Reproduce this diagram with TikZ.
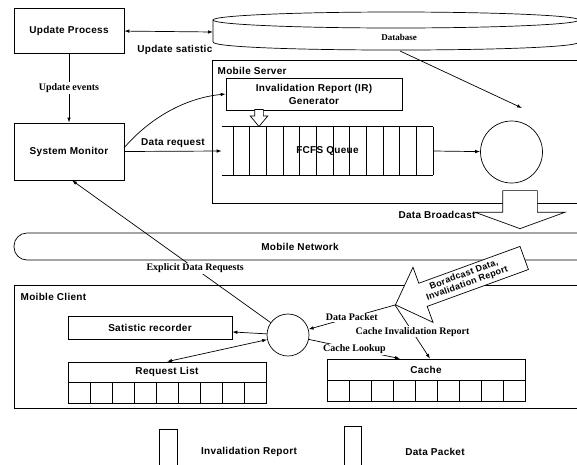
\documentclass[tikz,border=0pt]{standalone}
\usepackage{fontspec}
\setmainfont{Liberation Sans}
\newfontfamily\sansb[LetterSpace=3]{Liberation Sans}
\newfontfamily\serifb{Liberation Serif}
\usetikzlibrary{arrows.meta,shapes.arrows,positioning}

\begin{document}
\begin{tikzpicture}[x=1pt, y=-1pt, line width=0.7pt,
  lab/.style={font=\sansb\bfseries\fontsize{10}{11}\selectfont},
  box/.style={lab, draw},
  slab/.style={font=\serifb\bfseries\fontsize{10}{11}\selectfont, fill=white, inner sep=1pt},
  conn/.style={-{Latex[length=5pt,width=3.5pt]}},
  dconn/.style={{Latex[length=5pt,width=3.5pt]}-{Latex[length=5pt,width=3.5pt]}}]
  \useasboundingbox (0,0) rectangle (577,464);

  \node[box, minimum width=110pt, minimum height=45pt] (upd) at (69,30.5) {Update Process};
  \node[box, minimum width=110pt, minimum height=57pt] (sm)  at (69,151.5) {System Monitor};

  \coordinate (dbc) at (396,20);
  \coordinate (dbl) at (213,32);
  \draw (dbc) ellipse [x radius=183pt, y radius=8pt];
  \draw (213,20) -- (213,42) .. controls (213,52.7) and (579,52.7) .. (579,42) -- (579,20);
  \node[font=\serifb\bfseries\fontsize{9}{10}\selectfont] (db) at (399,37) {Database};

  \draw[dconn] (upd) -- (dbl) node[pos=0.57, below=10pt, lab] {Update satistic};
  \draw[conn] (upd) -- (sm) node[midway, slab] {Update events};

  \draw (212,60) rectangle (600,203);
  \node[lab, anchor=west] (srvlab) at (214,71) {Mobile Server};
  \node[box, align=center, minimum width=176pt, minimum height=32pt,
        font=\sansb\bfseries\fontsize{10}{13}\selectfont] (irgen) at (314,94)
        {Invalidation Report (IR)\\Generator};
  \node[single arrow, draw, fill=white, rotate=-90, anchor=tip, inner xsep=0pt, inner ysep=4pt,
        minimum height=17pt, single arrow head extend=4.5pt, single arrow tip angle=80]
        (irarr) at (259,127) {};

  \node[lab, minimum width=211pt, minimum height=48pt, inner sep=0pt] (queue) at (327.5,151) {FCFS Queue};
  \draw (queue.north west) -- (queue.north east) (queue.south west) -- (queue.south east);
  \foreach \i in {0,...,12}
    \draw ({233+16.67*\i},127) -- ++(0,48);
  \node[draw, circle, minimum size=62pt, inner sep=0pt] (bc) at (511.5,152) {};

  \coordinate (dbout) at (400,51);
  \coordinate (dbin)  at (522,108);
  \draw[conn] (dbout) -- (dbin);
  \draw[conn] (queue.east) -- (bc);
  \draw[conn] (sm.east) -- (queue.west) node[midway, above, lab] {Data request};
  \draw[conn] ([yshift=4pt]sm.east) .. controls (150,118) and (185,98) .. (irgen.west);

  \node[single arrow, draw, fill=white, rotate=-90, anchor=tip, inner xsep=0pt, inner ysep=17pt,
        minimum height=38pt, single arrow head extend=27.5pt, single arrow tip angle=140]
        (dbarr) at (520,229) {};
  \node[lab] (dblab) at (437,215) {Data Broadcast};

  \draw[rounded corners=13pt] (600,233) -- (14,233) -- (14,260) -- (600,260);
  \node[lab] (net) at (300,247) {Mobile Network};

  \draw (14,285) rectangle (600,408);
  \node[lab, anchor=west] (cllab) at (17,297) {Moible Client};

  \node[box, minimum width=164pt, minimum height=23pt] (rec) at (150,327.5) {Satistic recorder};
  \node[draw, circle, minimum size=42pt, inner sep=0pt] (cc) at (288,335) {};

  \node[box, minimum width=198pt, minimum height=20pt] (req) at (167,372) {Request List};
  \foreach \i in {0,...,8}
    \draw ({68+22*\i},382) rectangle ++(22,21);
  \node[box, minimum width=198pt, minimum height=21pt] (cache) at (426,369.5) {Cache};
  \foreach \i in {0,...,8}
    \draw ({327+22*\i},380) rectangle ++(22,21);

  \node[single arrow, draw, fill=white, rotate=20, shape border rotate=180, anchor=tip,
        align=center, inner xsep=3pt, inner ysep=3pt, minimum height=137pt,
        single arrow head extend=17pt, single arrow tip angle=90,
        font=\sansb\bfseries\fontsize{9}{9.5}\selectfont]
        (brarr) at (395,305) {Boradcast Data,\\Invalidation Report};

  \draw[conn] (cc) -- (rec);
  \draw[dconn] (cc) -- (req.north);
  \draw[conn] (cc) -- ([xshift=3pt]sm.south) node[pos=0.38, slab] {Explicit Data Requests};
  \draw[conn] (brarr.tip) -- (cc) node[midway, slab] {Data Packet};
  \draw[conn] (brarr.tip) -- ([xshift=4pt]cache.north) node[midway, slab] {Cache Invalidation Report};
  \draw[conn] (cc) -- ([xshift=-26pt]cache.north) node[pos=0.5, slab] {Cache Lookup};

  \draw (159,470) |- (177,429) -- (177,470);
  \node[lab] (irkey) at (249,452) {Invalidation Report};
  \draw (344,470) |- (361,426) -- (361,470);
  \node[lab] (dpkey) at (435,452) {Data Packet};
\end{tikzpicture}
\end{document}
